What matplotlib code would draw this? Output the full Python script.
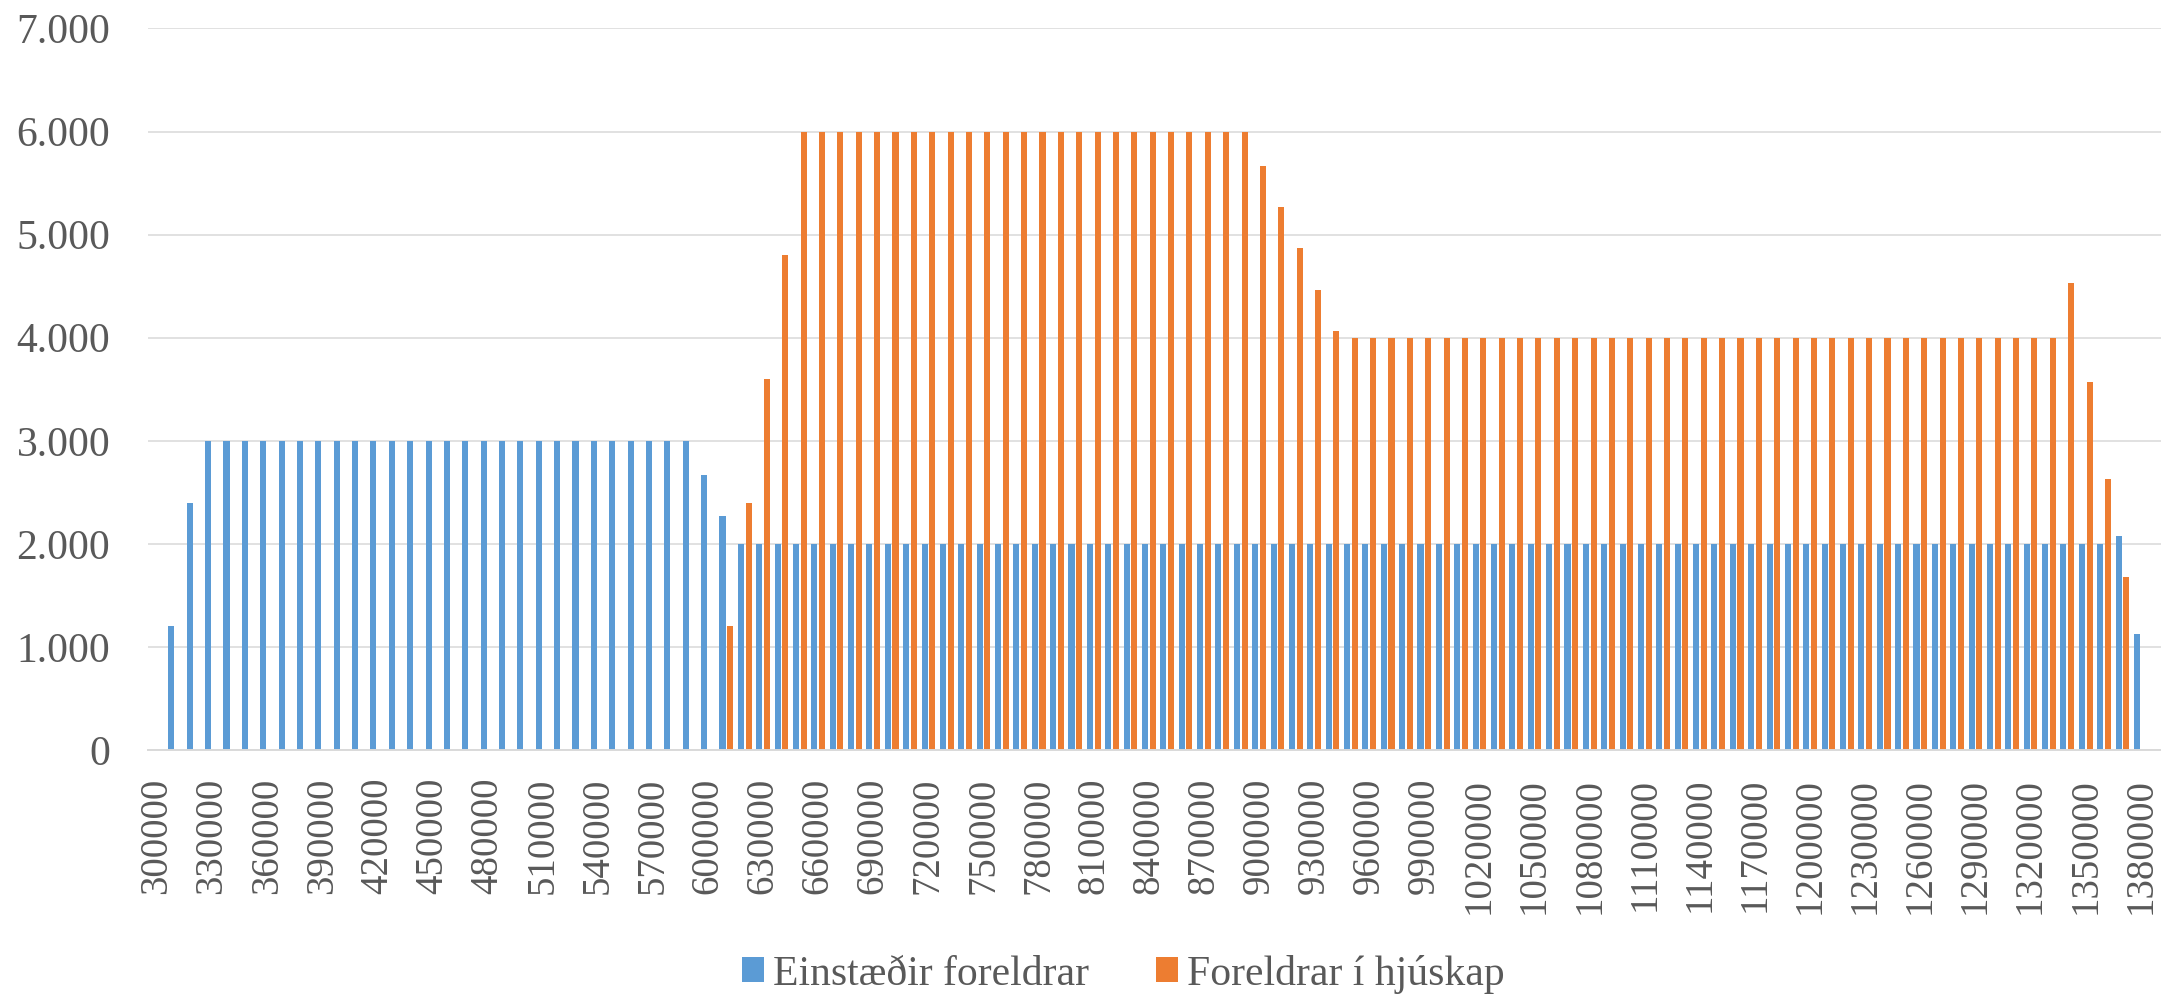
import matplotlib
matplotlib.use("Agg")
import matplotlib.pyplot as plt
from matplotlib.ticker import FuncFormatter, FixedLocator
from matplotlib.patches import Patch
import numpy as np

plt.rcParams['font.family'] = ['Liberation Serif', 'DejaVu Serif']

categories = list(range(300000, 1380001, 10000))

series_names = ["Einstæðir foreldrar", "Foreldrar í hjúskap"]

einstaedir = [
    0, 1200, 2400, 3000, 3000, 3000, 3000, 3000, 3000, 3000,
    3000, 3000, 3000, 3000, 3000, 3000, 3000, 3000, 3000, 3000,
    3000, 3000, 3000, 3000, 3000, 3000, 3000, 3000, 3000, 3000,
    2667, 2267, 2000, 2000, 2000, 2000, 2000, 2000, 2000, 2000,
    2000, 2000, 2000, 2000, 2000, 2000, 2000, 2000, 2000, 2000,
    2000, 2000, 2000, 2000, 2000, 2000, 2000, 2000, 2000, 2000,
    2000, 2000, 2000, 2000, 2000, 2000, 2000, 2000, 2000, 2000,
    2000, 2000, 2000, 2000, 2000, 2000, 2000, 2000, 2000, 2000,
    2000, 2000, 2000, 2000, 2000, 2000, 2000, 2000, 2000, 2000,
    2000, 2000, 2000, 2000, 2000, 2000, 2000, 2000, 2000, 2000,
    2000, 2000, 2000, 2000, 2000, 2000, 2000, 2080, 1130,
]

hjuskap = [
    0, 0, 0, 0, 0, 0, 0, 0, 0, 0,
    0, 0, 0, 0, 0, 0, 0, 0, 0, 0,
    0, 0, 0, 0, 0, 0, 0, 0, 0, 0,
    0, 1200, 2400, 3600, 4800, 6000, 6000, 6000, 6000, 6000,
    6000, 6000, 6000, 6000, 6000, 6000, 6000, 6000, 6000, 6000,
    6000, 6000, 6000, 6000, 6000, 6000, 6000, 6000, 6000, 6000,
    5667, 5267, 4867, 4467, 4067, 4000, 4000, 4000, 4000, 4000,
    4000, 4000, 4000, 4000, 4000, 4000, 4000, 4000, 4000, 4000,
    4000, 4000, 4000, 4000, 4000, 4000, 4000, 4000, 4000, 4000,
    4000, 4000, 4000, 4000, 4000, 4000, 4000, 4000, 4000, 4000,
    4000, 4000, 4000, 4000, 4533, 3573, 2627, 1680, 0,
]

y_ticks = [0, 1000, 2000, 3000, 4000, 5000, 6000, 7000]

BLUE = "#5B9BD5"
ORANGE = "#ED7D31"
TEXT = "#595959"
GRID = "#D9D9D9"

W, H = 2161, 997
fig = plt.figure(figsize=(W / 100, H / 100), dpi=100)
ax = fig.add_axes([147.7 / W, (H - 750) / H, (W - 147.7) / W, (750 - 28.5) / H])

x = np.arange(len(categories))
bw = 0.33
off = 0.21
ax.bar(x - off, einstaedir, width=bw, color=BLUE, linewidth=0, zorder=3)
ax.bar(x + off, hjuskap, width=bw, color=ORANGE, linewidth=0, zorder=3)

ax.set_xlim(-0.5, 109.1)
ax.set_ylim(0, 7000)

ax.yaxis.set_major_locator(FixedLocator(y_ticks))
ax.yaxis.set_major_formatter(FuncFormatter(lambda v, p: f"{int(v):,}".replace(",", ".")))
ax.grid(axis='y', color=GRID, linewidth=1.1, zorder=0)
ax.set_axisbelow(True)

tick_idx = x[::3]
ax.set_xticks(tick_idx)
ax.set_xticklabels([str(categories[i]) for i in tick_idx], rotation=90, va='top', ha='center')

ax.tick_params(axis='y', length=0, pad=27, labelsize=30, labelcolor=TEXT)
ax.tick_params(axis='x', length=0, pad=20, labelsize=28, labelcolor=TEXT)

for s in ['top', 'right', 'left']:
    ax.spines[s].set_visible(False)
ax.spines['bottom'].set_color(GRID)
ax.spines['bottom'].set_linewidth(1.4)
ax.spines['bottom'].set_zorder(4)

handles = [Patch(facecolor=BLUE, edgecolor='none'), Patch(facecolor=ORANGE, edgecolor='none')]
fig.legend(handles, series_names, loc='center', bbox_to_anchor=(1123 / W, (H - 974) / H),
           ncol=2, frameon=False, fontsize=30, labelcolor=TEXT,
           handlelength=0.53, handleheight=0.53, handletextpad=0.22, columnspacing=1.6,
           borderpad=0, borderaxespad=0)

fig.savefig("out.png", dpi=100)
